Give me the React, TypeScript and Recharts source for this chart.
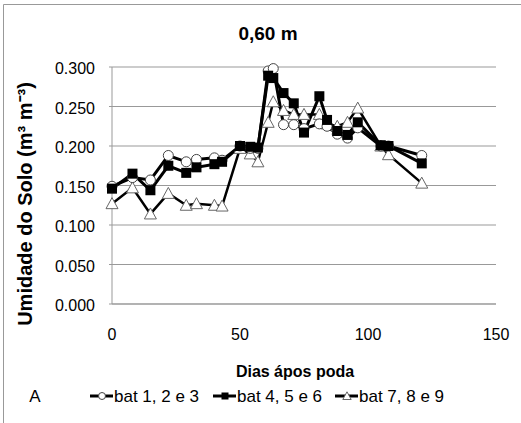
import {
  LineChart,
  Line,
  XAxis,
  YAxis,
  CartesianGrid,
} from "recharts";

const days = [0, 8, 15, 22, 29, 33, 40, 43, 50, 54, 57, 61, 63, 67, 71, 75, 81, 84, 88, 92, 96, 105, 108, 121];

const bat123 = [0.149, 0.16, 0.157, 0.188, 0.18, 0.183, 0.185, 0.182, 0.2, 0.197, 0.197, 0.295, 0.298, 0.227, 0.227, 0.222, 0.228, 0.225, 0.215, 0.21, 0.223, 0.2, 0.2, 0.188];
const bat456 = [0.146, 0.165, 0.144, 0.175, 0.166, 0.173, 0.177, 0.18, 0.2, 0.199, 0.198, 0.289, 0.286, 0.267, 0.254, 0.217, 0.263, 0.233, 0.219, 0.214, 0.23, 0.201, 0.2, 0.178];
const bat789 = [0.127, 0.147, 0.114, 0.14, 0.125, 0.127, 0.125, 0.124, 0.197, 0.19, 0.18, 0.23, 0.256, 0.245, 0.24, 0.24, 0.24, 0.228, 0.225, 0.23, 0.248, 0.2, 0.189, 0.153];

const yTicks = [0, 0.05, 0.1, 0.15, 0.2, 0.25, 0.3];
const xTicks = [0, 50, 100, 150];

const legendLabels = ["bat 1, 2 e 3", "bat 4, 5 e 6", "bat 7, 8 e 9"];
const legendKinds = ["circle", "square", "triangle"];

const data = days.map((d, i) => ({
  dia: d,
  s1: bat123[i],
  s2: bat456[i],
  s3: bat789[i],
}));

const FONT = "'Liberation Sans', Arial, sans-serif";

function Marker({ kind, cx, cy, s = 1 }: { kind: string; cx: number; cy: number; s?: number }) {
  if (kind === "circle")
    return <circle cx={cx} cy={cy} r={5 * s} fill="#fff" stroke="#444" strokeWidth={1} />;
  if (kind === "square")
    return <rect x={cx - 5 * s} y={cy - 5 * s} width={10 * s} height={10 * s} fill="#000" />;
  return (
    <polygon
      points={`${cx},${cy - 6 * s} ${cx - 6 * s},${cy + 5 * s} ${cx + 6 * s},${cy + 5 * s}`}
      fill="#fff"
      stroke="#666"
      strokeWidth={1}
    />
  );
}

const dotFor = (kind: string) => (p: any) => (
  <Marker key={`${kind}-${p.index}`} kind={kind} cx={p.cx} cy={p.cy} />
);

const XTick = (p: any) => (
  <text x={p.x} y={p.y + 34} textAnchor="middle" fontSize={16} fontFamily={FONT} fill="#000">
    {p.payload.value}
  </text>
);

const YTick = (p: any) => (
  <text x={p.x - 12} y={p.y + 7} textAnchor="end" fontSize={16} fontFamily={FONT} fill="#000">
    {Number(p.payload.value).toFixed(3)}
  </text>
);

// posições x dos itens da legenda (símbolo, texto)
const legendX = [90, 213, 335];

function Overlay() {
  return (
    <svg
      width={521}
      height={423}
      style={{ position: "absolute", left: 0, top: 0, pointerEvents: "none" }}
      fontFamily={FONT}
    >
      <line x1={3.5} y1={4.5} x2={3.5} y2={423} stroke="#999" />
      <line x1={3.5} y1={4.5} x2={521} y2={4.5} stroke="#999" />
      <text x={268} y={40} textAnchor="middle" fontSize={19} fontWeight="bold">
        0,60 m
      </text>
      <text
        transform="translate(32,204) rotate(-90)"
        textAnchor="middle"
        fontSize={20}
        fontWeight="bold"
      >
        Umidade do Solo (m³ m⁻³)
      </text>
      <text x={295} y={377} textAnchor="middle" fontSize={16} fontWeight="bold">
        Dias ápos poda
      </text>
      <text x={35} y={402} textAnchor="middle" fontSize={17}>
        A
      </text>
      {legendLabels.map((lab, i) => (
        <g key={lab}>
          <line x1={legendX[i]} y1={396} x2={legendX[i] + 23} y2={396} stroke="#000" strokeWidth={3} />
          <Marker kind={legendKinds[i]} cx={legendX[i] + 12} cy={396} s={0.7} />
          <text x={legendX[i] + 24} y={402} fontSize={17}>
            {lab}
          </text>
        </g>
      ))}
    </svg>
  );
}

export default function App() {
  return (
    <div
      style={{
        position: "absolute",
        left: 0,
        top: 0,
        width: 521,
        height: 423,
        background: "#fff",
        overflow: "hidden",
      }}
    >
      <LineChart
        width={521}
        height={423}
        data={data}
        margin={{ top: 67, right: 25, left: 52, bottom: 89 }}
      >
        <CartesianGrid vertical={false} stroke="#999" strokeWidth={1.2} />
        <XAxis
          dataKey="dia"
          type="number"
          domain={[0, 150]}
          ticks={xTicks}
          height={30}
          axisLine={{ stroke: "#999" }}
          tickLine={false}
          tickSize={0}
          tick={<XTick />}
        />
        <YAxis
          domain={[0, 0.3]}
          ticks={yTicks}
          width={60}
          axisLine={{ stroke: "#999" }}
          tickLine={{ stroke: "#999" }}
          tickSize={3}
          tick={<YTick />}
        />
        <Line dataKey="s3" stroke="#000" strokeWidth={2.5} dot={dotFor("triangle")} isAnimationActive={false} />
        <Line dataKey="s1" stroke="#000" strokeWidth={3} dot={dotFor("circle")} isAnimationActive={false} />
        <Line dataKey="s2" stroke="#000" strokeWidth={3} dot={dotFor("square")} isAnimationActive={false} />
      </LineChart>
      <Overlay />
    </div>
  );
}
